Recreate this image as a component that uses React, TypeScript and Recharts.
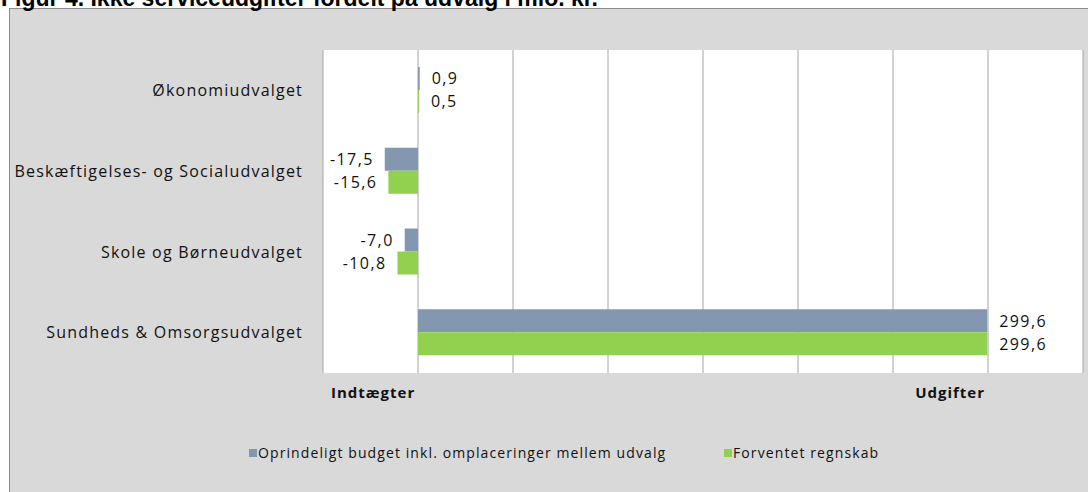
import React from 'react';
import { BarChart, Bar, XAxis, YAxis, CartesianGrid, LabelList } from 'recharts';

const CATEGORIES = [
    'Økonomiudvalget',
    'Beskæftigelses- og Socialudvalget',
    'Skole  og Børneudvalget',
    'Sundheds & Omsorgsudvalget',
];
const BUDGET = [0.9, -17.5, -7.0, 299.6];
const REGNSKAB = [0.5, -15.6, -10.8, 299.6];
const SERIES_NAMES = ['Oprindeligt budget inkl. omplaceringer mellem udvalg', 'Forventet regnskab'];
const X_TICKS = [-50, 0, 50, 100, 150, 200, 250, 300, 350];
const X_TICK_LABELS: Record<number, string> = { [-50]: 'Indtægter', 300: 'Udgifter' };
const TITLE = 'Figur 4. Ikke serviceudgifter fordelt på udvalg i mio. kr.';

const COLORS = ['#8497b0', '#92d050'];
const FONT = '"Open Sans", sans-serif';

const data = CATEGORIES.map((name, i) => ({ name, budget: BUDGET[i], regnskab: REGNSKAB[i] }));

const fmt = (v: number) => v.toFixed(1).replace('.', ',');

const ValueLabel = (props: any) => {
    const { x, y, width, height, value } = props;
    const a = Number(x);
    const b = Number(x) + Number(width);
    const neg = value < 0;
    const px = neg ? Math.min(a, b) - 11 : Math.max(a, b) + 12;
    return (
        <text x={px} y={Number(y) + Number(height) / 2} dy="0.36em" textAnchor={neg ? 'end' : 'start'}
            fontFamily={FONT} fontSize={16} letterSpacing={1.4} fill="#111">
            {fmt(value)}
        </text>
    );
};

const CategoryTick = ({ x, y, payload }: any) => (
    <text x={x} y={y} dy="0.36em" textAnchor="end" fontFamily={FONT} fontSize={16} fill="#111" letterSpacing={1.2}>
        {payload.value}
    </text>
);

const SideTick = ({ x, y, payload }: any) => {
    const label = X_TICK_LABELS[payload.value];
    if (!label) return null;
    const start = payload.value < 0;
    return (
        <text x={start ? x + 8 : x - 3} y={y + 12} dy="0.36em" textAnchor={start ? 'start' : 'end'}
            fontFamily={FONT} fontSize={15} letterSpacing={1} fontWeight={700} fill="#111">
            {label}
        </text>
    );
};

export default function App() {
    return (
        <div style={{ position: 'absolute', left: 0, top: 0, width: 1088, height: 492, overflow: 'hidden', background: '#fff' }}>
            <div style={{ position: 'absolute', left: 9, top: 8, width: 1100, height: 500, background: '#d9d9d9', border: '1px solid #8c8c8c' }} />
            <div style={{ position: 'absolute', left: 1, top: -15, fontFamily: '"Liberation Sans", Arial, sans-serif', fontWeight: 700, fontSize: 23, lineHeight: '26px', whiteSpace: 'nowrap', color: '#000' }}>
                {TITLE}
            </div>
            <div style={{ position: 'absolute', left: 0, top: 0 }}>
                <BarChart width={1088} height={492} data={data} layout="vertical"
                    margin={{ top: 50, right: 5, bottom: 89, left: 0 }} barGap={0} barSize={23}>
                    <CartesianGrid horizontal={false} fill="#fff" stroke="#a6a6a6" />
                    <XAxis type="number" domain={[-50, 350]} ticks={X_TICKS} interval={0} axisLine={false} tickLine={false}
                        height={30} tick={<SideTick />} />
                    <YAxis type="category" dataKey="name" width={323} axisLine={false} tickLine={false}
                        tickSize={0} tickMargin={20} interval={0} tick={<CategoryTick />} />
                    <Bar dataKey="budget" name={SERIES_NAMES[0]} fill={COLORS[0]} isAnimationActive={false}>
                        <LabelList dataKey="budget" content={<ValueLabel />} />
                    </Bar>
                    <Bar dataKey="regnskab" name={SERIES_NAMES[1]} fill={COLORS[1]} isAnimationActive={false}>
                        <LabelList dataKey="regnskab" content={<ValueLabel />} />
                    </Bar>
                </BarChart>
            </div>
            <div style={{ position: 'absolute', top: 443, left: 0, width: 1088, height: 18, fontFamily: FONT, fontSize: 14, letterSpacing: 1.1, color: '#111' }}>
                {SERIES_NAMES.map((n, i) => (
                    <div key={n} style={{ position: 'absolute', left: i === 0 ? 249 : 724, top: 0, display: 'flex', alignItems: 'center', whiteSpace: 'nowrap' }}>
                        <span style={{ width: 8, height: 8, background: COLORS[i], marginRight: 1, display: 'inline-block' }} />
                        <span>{n}</span>
                    </div>
                ))}
            </div>
        </div>
    );
}
